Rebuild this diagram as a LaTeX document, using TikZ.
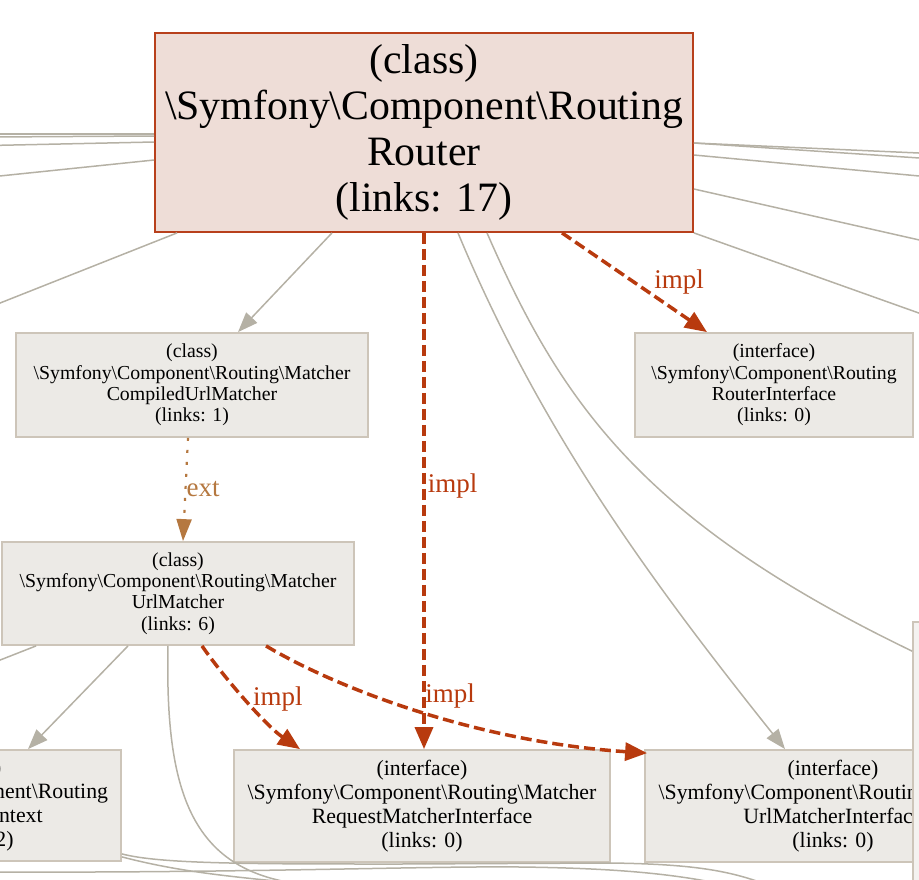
\documentclass[tikz,border=0pt]{standalone}
\usepackage{fontspec}
\setmainfont{Liberation Serif}
\usetikzlibrary{arrows.meta,calc}

\definecolor{routerfill}{HTML}{EEDDD7}
\definecolor{routerline}{HTML}{B8401C}
\definecolor{boxfill}{HTML}{ECEAE6}
\definecolor{boxline}{HTML}{CDC5B9}
\definecolor{edgegray}{HTML}{B5B1A5}
\definecolor{implred}{HTML}{B83A0E}
\definecolor{extbrown}{HTML}{B57840}
\newcommand{\bs}{\textbackslash}

\begin{document}
\begin{tikzpicture}[
  x=1pt, y=-1pt,
  box/.style={rectangle, draw=boxline, fill=boxfill, line width=1.8pt, align=center, inner sep=0pt},
  mainbox/.style={box, draw=routerline, fill=routerfill, minimum width=538pt, minimum height=199pt, font=\fontsize{41.8}{46}\selectfont},
  midbox/.style={box, minimum height=104pt, font=\fontsize{19.8}{21.4}\selectfont},
  lowbox/.style={box, minimum height=112pt, font=\fontsize{21.8}{24}\selectfont},
  link/.style={edgegray, line width=1.5pt},
  arrow/.style={link, -{Triangle[length=20pt,width=15pt]}},
  impl/.style={implred, line width=3.5pt, dash pattern=on 11pt off 5pt, -{Triangle[length=22pt,width=18pt]}},
  ext/.style={extbrown, line width=2.2pt, dash pattern=on 3pt off 9pt, -{Triangle[length=22pt,width=15pt]}},
  lbl/.style={font=\fontsize{27}{30}\selectfont, inner sep=2pt}
]
\useasboundingbox (0,0) rectangle (919,879);
\clip (0,0) rectangle (919,879);

% Nodes
\node[mainbox] (router) at (424,132.5) {(class)\\\bs Symfony\bs Component\bs Routing\\Router\\(links: 17)};
\node[midbox, minimum width=352pt] (compiled) at (192,385) {(class)\\\bs Symfony\bs Component\bs Routing\bs Matcher\\CompiledUrlMatcher\\(links: 1)};
\node[midbox, minimum width=278pt] (routerif) at (774,385) {(interface)\\\bs Symfony\bs Component\bs Routing\\RouterInterface\\(links: 0)};
\node[midbox, minimum width=352pt, minimum height=103pt] (urlmatcher) at (178,593.5) {(class)\\\bs Symfony\bs Component\bs Routing\bs Matcher\\UrlMatcher\\(links: 6)};
\node[lowbox, minimum width=296pt, minimum height=111pt] (context) at (-27,805.5) {(class)\\\bs Symfony\bs Component\bs Routing\\RequestContext\\(links: 2)};
\node[lowbox, minimum width=376pt] (reqmatcherif) at (422,806) {(interface)\\\bs Symfony\bs Component\bs Routing\bs Matcher\\RequestMatcherInterface\\(links: 0)};
\node[lowbox, minimum width=376pt] (urlmatcherif) at (833,806) {(interface)\\\bs Symfony\bs Component\bs Routing\bs Matcher\\UrlMatcherInterface\\(links: 0)};
\node[box, fill=boxfill!60, minimum width=200pt, minimum height=260pt] (offright) at (1013,752) {};

% far ends of links leaving the picture
\coordinate (farw1) at (-10,134);
\coordinate (farw2) at (-10,137);
\coordinate (farw3) at (-10,145.5);
\coordinate (farw4) at (-10,177);
\coordinate (farw5) at (-10,307);
\coordinate (farw6) at (-10,872);
\coordinate (farw7) at (-10,664);
\coordinate (fare1) at (930,153.5);
\coordinate (fare2) at (930,158.7);
\coordinate (fare3) at (930,177);
\coordinate (fare4) at (930,242.4);
\coordinate (fare5) at (930,317);
\coordinate (fars1) at (300,884);
\coordinate (fars2) at (770,886);
\coordinate (fars3) at (330,886);
\coordinate (fars4) at (730,886);

% Links
\draw[link] ($(router.west)+(0,1.5)$) -- (farw1);
\draw[link] ($(router.west)+(0,3.5)$) -- (farw2);
\draw[link] ($(router.west)+(0,9.5)$) -- (farw3);
\draw[link] ($(router.west)+(0,27.5)$) -- (farw4);
\draw[link] ($(router.south west)+(23,0)$) -- (farw5);
\draw[link] ($(router.east)+(0,10.5)$) -- (fare1);
\draw[link] ($(router.east)+(0,10.5)$) -- (fare2);
\draw[link] ($(router.east)+(0,22.5)$) -- (fare3);
\draw[link] ($(router.east)+(0,56.5)$) -- (fare4);
\draw[link] (router.south east) -- (fare5);
\draw[link] ($(router.south)+(63,0)$) .. controls (560,400) and (640,520) .. ($(offright.north west)+(0,30)$);
\draw[link] ($(urlmatcher.south west)+(35,0)$) -- (farw7);
\draw[link] ($(urlmatcher.south)+(-10,0)$) .. controls (165,790) and (190,870) .. (fars1);
\draw[link] ($(context.south east)+(0,-8)$) .. controls (160,864) and (250,864) .. (400,864)
  -- (610,863) .. controls (690,864) and (730,870) .. (fars2);
\draw[link] ($(context.south east)+(0,-5)$) .. controls (180,872) and (230,877) .. (fars3);
\draw[link] (farw6) .. controls (250,873) and (420,866) .. (520,867)
  .. controls (600,868) and (670,872) .. (fars4);

% Arrows
\draw[arrow] ($(router.south)+(-92,0)$) -- ($(compiled.north)+(46,0)$);
\draw[arrow] ($(router.south)+(34,0)$) .. controls (540,430) and (650,580) .. ($(urlmatcherif.north)+(-48,0)$);
\draw[arrow] ($(urlmatcher.south)+(-50,0)$) -- ($(context.north)+(55,0)$);
\draw[impl] ($(router.south)+(138,0)$) -- ($(routerif.north)+(-67,0)$) node[lbl, midway, right=16pt] {impl};
\draw[impl] (router.south) -- (router.south |- reqmatcherif.north) node[lbl, pos=0.49, right] {impl};
\draw[ext] ($(compiled.south)+(-4,0)$) -- ($(urlmatcher.north)+(5,0)$) node[lbl, midway, right, inner sep=0pt] {ext};
\draw[impl] ($(urlmatcher.south)+(24,0)$) .. controls (222,675) and (265,725) .. ($(reqmatcherif.north)+(-122,0)$) node[lbl, pos=0.5, right=4pt] {impl};
\draw[impl] ($(urlmatcher.south)+(88,0)$) .. controls (340,690) and (480,742) .. ($(urlmatcherif.north west)+(3,4)$) node[lbl, pos=0.5, anchor=south west] {impl};

\end{tikzpicture}
\end{document}
